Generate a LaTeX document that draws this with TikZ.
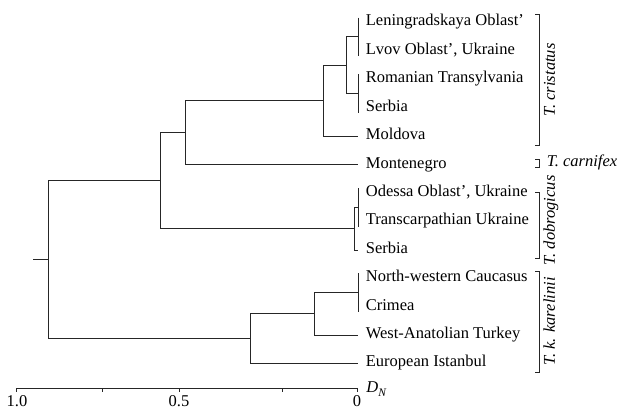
\documentclass[tikz,border=0pt]{standalone}
\usepackage{fontspec}
\setmainfont{Liberation Serif}
\begin{document}
\begin{tikzpicture}[x=1pt,y=-1pt,
  line width=0.8pt,
  every node/.style={font=\fontsize{16.5}{18}\selectfont, inner sep=0pt, text height=0.66em, text depth=0pt},
  leaf/.style={anchor=west, inner xsep=7.5pt},
  branch/.style={draw=black!85, line width=0.8pt},
  sp/.style={font=\fontsize{16.5}{18}\selectfont\itshape},
  brk/.style={draw=black!85, line width=0.8pt}
]
\useasboundingbox (0,0) rectangle (618,409);

% leaves
\node[leaf] (t0) at (358,22.7) {Leningradskaya Oblast’};
\node[leaf] (t1) at (358,51.1) {Lvov Oblast’, Ukraine};
\node[leaf] (t2) at (358,79.5) {Romanian Transylvania};
\node[leaf] (t3) at (358,107.9) {Serbia};
\node[leaf] (t4) at (358,136.3) {Moldova};
\node[leaf] (t5) at (358,164.7) {Montenegro};
\node[leaf] (t6) at (358,193.1) {Odessa Oblast’, Ukraine};
\node[leaf] (t7) at (358,221.5) {Transcarpathian Ukraine};
\node[leaf] (t8) at (358,249.9) {Serbia};
\node[leaf] (t9) at (358,278.3) {North-western Caucasus};
\node[leaf] (t10) at (358,306.7) {Crimea};
\node[leaf] (t11) at (358,335.1) {West-Anatolian Turkey};
\node[leaf] (t12) at (358,363.5) {European Istanbul};

% internal nodes
\coordinate (a) at (358,36.9);
\coordinate (b) at (358,93.7);
\coordinate (c) at (346.7,65.3);
\coordinate (d) at (323.3,100.8);
\coordinate (e) at (185,132.75);
\coordinate (f) at (358,207.3);
\coordinate (g) at (354.5,228.6);
\coordinate (h) at (160.3,180.7);
\coordinate (i) at (358,292.5);
\coordinate (j) at (314,313.8);
\coordinate (k) at (250.7,338.65);
\coordinate (r) at (48.3,259.7);
\coordinate (r0) at (33,259.7);

% zero-length clusters (vertical bars reaching a little past the leaves)
\draw[branch] ([yshift=5pt]t0.west) -- ([yshift=-5pt]t1.west);
\draw[branch] ([yshift=5pt]t2.west) -- ([yshift=-5pt]t3.west);
\draw[branch] ([yshift=5pt]t6.west) -- ([yshift=-5pt]t7.west);
\draw[branch] ([yshift=5pt]t9.west) -- ([yshift=-5pt]t10.west);

\draw[branch] (c) |- (a);
\draw[branch] (c) |- (b);
\draw[branch] (d) |- (c);
\draw[branch] (d) |- (t4.west);
\draw[branch] (e) |- (d);
\draw[branch] (e) |- (t5.west);
\draw[branch] (g) |- (f);
\draw[branch] (g) |- (t8.west);
\draw[branch] (h) |- (e);
\draw[branch] (h) |- (g);
\draw[branch] (j) |- (i);
\draw[branch] (j) |- (t11.west);
\draw[branch] (k) |- (j);
\draw[branch] (k) |- (t12.west);
\draw[branch] (r) |- (h);
\draw[branch] (r) |- (k);
\draw[branch] (r0) -- (r);

% brackets
\draw[brk] (535,14) -- (539.3,14) -- (539.3,145.7) -- (535,145.7);
\draw[brk] (535,159) -- (539.3,159) -- (539.3,167) -- (535,167);
\draw[brk] (535,192) -- (539.3,192) -- (539.3,258.3) -- (535,258.3);
\draw[brk] (535,271) -- (539.3,271) -- (539.3,372.7) -- (535,372.7);

\node[sp, rotate=90] (s1) at (551.5,80) {T. cristatus};
\node[sp, anchor=west] (s2) at (546.5,163) {T. carnifex};
\node[sp, rotate=90] (s3) at (551.5,220.5) {T. dobrogicus};
\node[sp, rotate=90] (s4) at (551.5,321.5) {T. k. karelinii};

% axis
\coordinate (ax0) at (16.7,388);
\coordinate (ax1) at (357.3,388);
\draw[branch] (ax0) -- (ax1);
\foreach \x in {16.7,102.7,179,282.7,357.3} \draw[branch] (\x,388) -- (\x,392);
\node (l10) at (17,403) {1.0};
\node (l05) at (179,403) {0.5};
\node (l00) at (357,403) {0};
\node[anchor=base west] (dn) at (366,392) {\textit{D}\raisebox{-0.28em}{\fontsize{11.5}{12}\selectfont\textit{N}}};
\end{tikzpicture}
\end{document}
